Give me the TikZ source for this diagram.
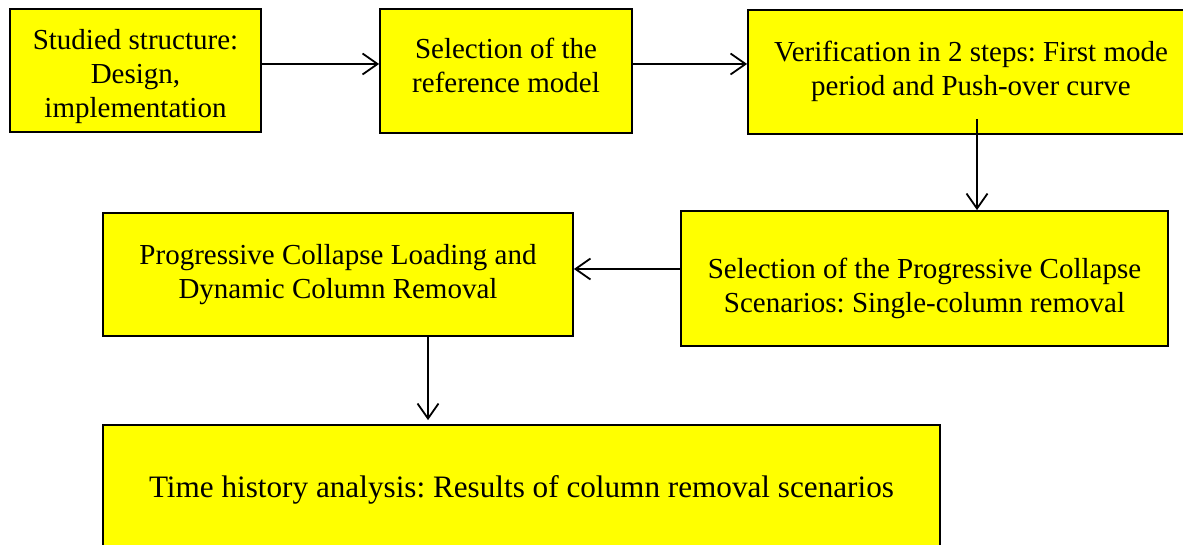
\documentclass[tikz,border=0pt]{standalone}
\usepackage{fontspec}
\setmainfont{Liberation Serif}
\usetikzlibrary{arrows.meta}
\definecolor{boxyellow}{RGB}{255,255,0}
\newcommand{\boxtext}[2]{\raisebox{#1}[\height][\depth]{\begin{tabular}{@{}c@{}}#2\end{tabular}}}
\frenchspacing
\begin{document}
\begin{tikzpicture}[x=0.5pt,y=-0.5pt,
    stage/.style={draw=black,line width=0.9pt,fill=boxyellow,align=center,inner sep=0pt,
        font=\fontsize{14.5}{17}\selectfont},
    flow/.style={line width=0.9pt,-{Straight Barb[length=7.5pt,width=10.5pt]}}]
    % page frame
    \useasboundingbox (0,0) rectangle (1183,545);

    % first row
    \node[stage,minimum width=125.5pt,minimum height=61.5pt] (study) at (135.5,70.5)
        {\boxtext{-3pt}{Studied structure:\\ Design,\\ implementation}};
    \node[stage,minimum width=126pt,minimum height=62pt] (refmodel) at (506,71)
        {\boxtext{1pt}{Selection of the\\ reference model}};
    \node[stage,minimum width=223pt,minimum height=62pt] (verif) at (971,72)
        {\boxtext{0pt}{Verification in 2 steps: First mode\\ period and Push-over curve}};

    % second row
    \node[stage,minimum width=243.5pt,minimum height=67.5pt] (scen) at (924.5,278.5)
        {\boxtext{-5pt}{Selection of the Progressive Collapse\\ Scenarios: Single-column removal}};
    \node[stage,minimum width=235pt,minimum height=61.5pt] (load) at (338,274.5)
        {\boxtext{0pt}{Progressive Collapse Loading and\\ Dynamic Column Removal}};

    % last box
    \node[stage,minimum width=418.5pt,minimum height=62pt,font=\fontsize{15.6}{18}\selectfont] (tha) at (521.5,487)
        {\boxtext{-1.5pt}{Time history analysis: Results of column removal scenarios}};

    % arrows
    \draw[flow] ([yshift=3.25pt]study.east) -- ([yshift=3.25pt]study.east -| refmodel.west);
    \draw[flow] ([yshift=3.5pt]refmodel.east) -- ([yshift=3.5pt]refmodel.east -| verif.west);
    \draw[flow] ([xshift=3pt,yshift=8pt]verif.south) -- ([xshift=3pt]verif.south |- scen.north);
    \draw[flow] ([yshift=4.75pt]scen.west) -- ([yshift=4.75pt]scen.west -| load.east);
    \draw[flow,shorten >=2pt] ([xshift=45pt]load.south) -- ([xshift=45pt]load.south |- tha.north);
\end{tikzpicture}
\end{document}
